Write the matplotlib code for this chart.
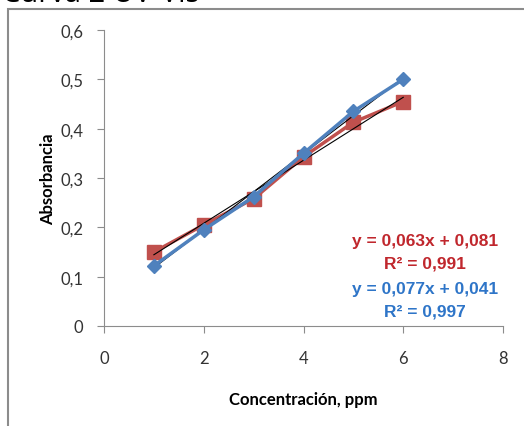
import numpy as np
import matplotlib.pyplot as plt
from matplotlib.patches import Rectangle

# datos
conc = [1, 2, 3, 4, 5, 6]
abs_rojo = [0.150, 0.205, 0.258, 0.343, 0.413, 0.455]
abs_azul = [0.122, 0.195, 0.262, 0.350, 0.435, 0.500]
xticks = [0, 2, 4, 6, 8]
yticks = [0, 0.1, 0.2, 0.3, 0.4, 0.5, 0.6]
ytick_labels = ["0", "0,1", "0,2", "0,3", "0,4", "0,5", "0,6"]
ecuaciones = ["y = 0,063x + 0,081", "R² = 0,991", "y = 0,077x + 0,041", "R² = 0,997"]

rojo = "#C0504D"
azul = "#4F81BD"
fuente = "Lato"

fig = plt.figure(figsize=(5.24, 4.27), dpi=100)

# marco del grafico
fig.patches.append(Rectangle((8 / 524, -0.05), 1.0, 1 - 10 / 427 + 0.05,
                             transform=fig.transFigure, fill=False,
                             edgecolor="#8c8c8c", linewidth=1.5))
# titulo cortado (solo se ve la parte de abajo)
fig.text(2 / 524, 1 - 1.5 / 427, "Curva 2 UV-Vis", fontsize=21,
         family="Open Sans", va="baseline", ha="left")

ax = fig.add_axes([104 / 524, 1 - 327 / 427, (503 - 104) / 524, (327 - 31) / 427])

# lineas de tendencia
xs = np.array([conc[0], conc[-1]])
for ys in (abs_rojo, abs_azul):
    m, b = np.polyfit(conc, ys, 1)
    ax.plot(xs, m * xs + b, color="black", linewidth=0.8, zorder=4)

ax.plot(conc, abs_rojo, color=rojo, linewidth=2.5, marker="s", markersize=10, zorder=3)
ax.plot(conc, abs_azul, color=azul, linewidth=2.5, marker="D", markersize=7, zorder=5)

ax.set_xlim(0, 8)
ax.set_ylim(0, 0.6)
ax.set_xticks(xticks)
ax.set_xticklabels([str(v) for v in xticks])
ax.set_yticks(yticks)
ax.set_yticklabels(ytick_labels)

for s in ("top", "right"):
    ax.spines[s].set_visible(False)
for s in ("left", "bottom"):
    ax.spines[s].set_color("#8c8c8c")
ax.tick_params(colors="#8c8c8c", length=5, labelcolor="#333333", labelsize=12)
ax.tick_params(axis="x", pad=12)
ax.tick_params(axis="y", pad=10)
for lbl in ax.get_xticklabels() + ax.get_yticklabels():
    lbl.set_family(fuente)

ax.set_xlabel("Concentración, ppm", fontsize=12, fontweight="bold", family=fuente, labelpad=18)
ax.set_ylabel("Absorbancia", fontsize=12, fontweight="bold", family=fuente, labelpad=3)

colores = ["#C0272D", "#C0272D", "#2E75C8", "#2E75C8"]
ys_txt = [242, 264, 290, 312]
for t, c, yp in zip(ecuaciones, colores, ys_txt):
    fig.text(425 / 524, 1 - yp / 427, t, color=c, fontsize=12.5, fontweight="bold",
             family="Liberation Sans", ha="center", va="center")

fig.savefig("out.png", dpi=100)
